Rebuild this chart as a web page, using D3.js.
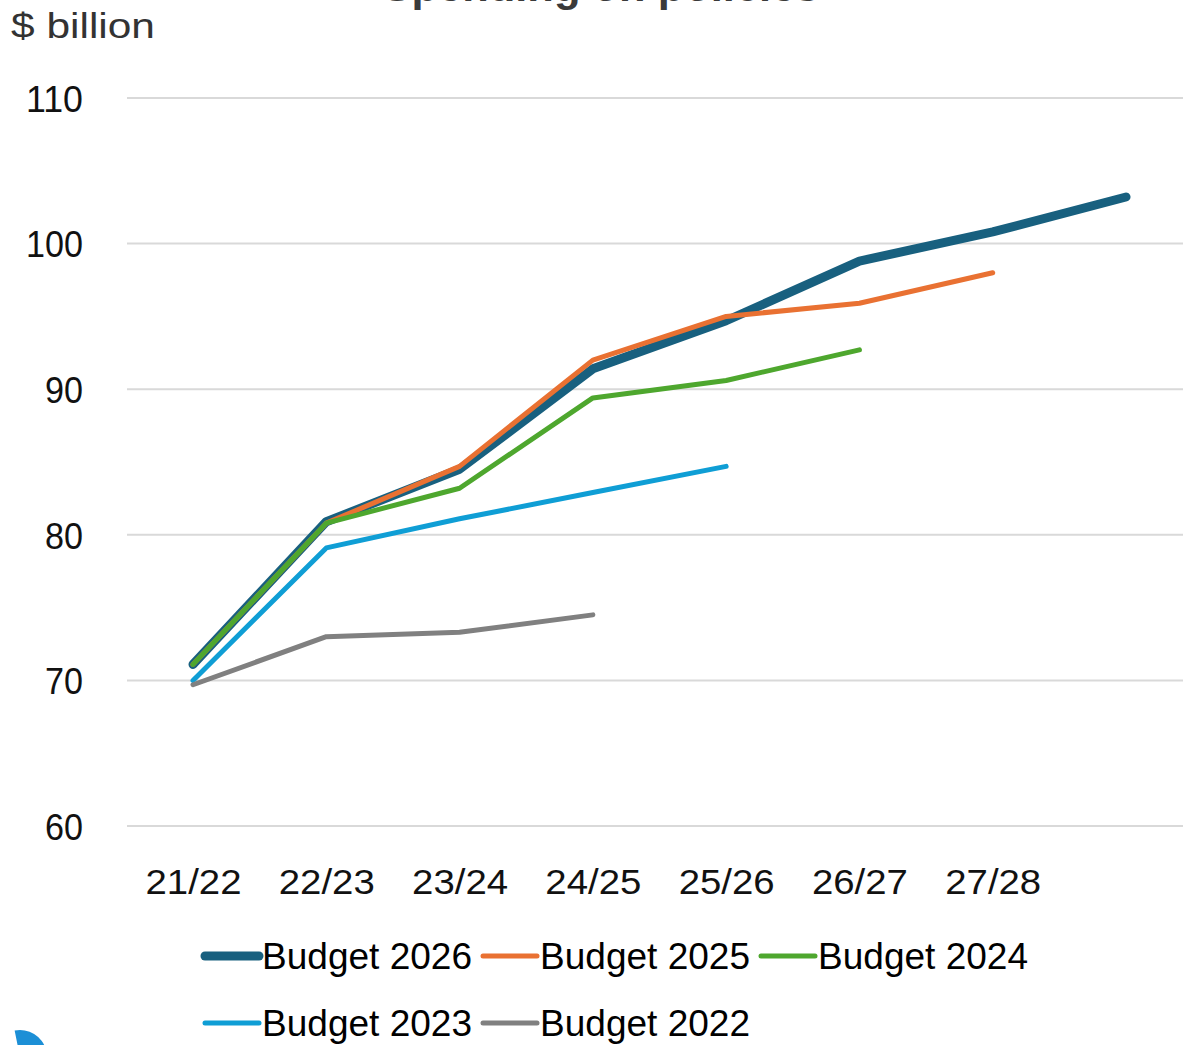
<!DOCTYPE html>
<html>
<head>
<meta charset="utf-8">
<script src="https://cdn.jsdelivr.net/npm/d3@7"></script>
<style>
  html, body { margin: 0; padding: 0; background: #fff; }
  svg { display: block; }
</style>
</head>
<body>
<svg id="chart" width="1183" height="1045"></svg>
<script>
// Fiscal years on the x axis (the last year carries no label)
const years = ["21/22", "22/23", "23/24", "24/25", "25/26", "26/27", "27/28", "28/29"];
const yearLabels = ["21/22", "22/23", "23/24", "24/25", "25/26", "26/27", "27/28", ""];
const yTicks = [60, 70, 80, 90, 100, 110];

// Spending forecasts by budget, $ billion
const budget2026 = [71.1, 80.9, 84.5, 91.4, 94.7, 98.8, 100.8, 103.2];
const budget2025 = [71.1, 80.8, 84.7, 92.0, 95.0, 95.9, 98.0];
const budget2024 = [71.1, 80.8, 83.2, 89.4, 90.6, 92.7];
const budget2023 = [70.0, 79.1, 81.1, 82.9, 84.7];
const budget2022 = [69.7, 73.0, 73.3, 74.5];

const seriesNames = ["Budget 2026", "Budget 2025", "Budget 2024", "Budget 2023", "Budget 2022"];
const seriesValues = [budget2026, budget2025, budget2024, budget2023, budget2022];
const seriesColors = ["#18607F", "#E97132", "#4EA72E", "#0F9ED5", "#808080"];
const seriesWidths = [9, 5, 5, 5, 5];

const svg = d3.select("#chart");
const font = "'Liberation Sans', Arial, sans-serif";

const x = d3.scalePoint().domain(years).range([193, 1126]);
const y = d3.scaleLinear().domain([60, 110]).range([826, 98]);

// Title (sits partly above the visible area)
svg.append("text")
  .attr("x", 601).attr("y", 0.5)
  .attr("text-anchor", "middle")
  .attr("font-family", font).attr("font-weight", "bold")
  .attr("font-size", 43).attr("fill", "#3a3a3a")
  .attr("textLength", 437).attr("lengthAdjust", "spacingAndGlyphs")
  .text("Spending on policies");

// Unit label
svg.append("text")
  .attr("x", 11).attr("y", 38)
  .attr("font-family", font).attr("font-size", 35)
  .attr("fill", "#333")
  .attr("textLength", 144).attr("lengthAdjust", "spacingAndGlyphs")
  .text("$ billion");

// Horizontal gridlines
svg.append("g")
  .selectAll("line")
  .data(yTicks)
  .join("line")
  .attr("x1", 127).attr("x2", 1183)
  .attr("y1", d => y(d)).attr("y2", d => y(d))
  .attr("stroke", "#D9D9D9").attr("stroke-width", 2);

// Y axis labels
const yAxis = svg.append("g")
  .attr("transform", "translate(83,0)")
  .call(d3.axisLeft(y).tickValues(yTicks).tickSize(0).tickPadding(0));
yAxis.select(".domain").remove();
yAxis.selectAll("text")
  .attr("font-family", font).attr("font-size", 37).attr("fill", "#111")
  .attr("dy", "0.36em")
  .attr("textLength", d => String(d).length * 19)
  .attr("lengthAdjust", "spacingAndGlyphs");

// X axis labels
const xAxis = svg.append("g")
  .attr("transform", "translate(0,881)")
  .call(d3.axisBottom(x).tickFormat((d, i) => yearLabels[i]).tickSize(0).tickPadding(0));
xAxis.select(".domain").remove();
xAxis.selectAll("text")
  .attr("font-family", font).attr("font-size", 35).attr("fill", "#111")
  .attr("dy", "0.36em")
  .filter((d, i) => yearLabels[i] !== "")
  .attr("textLength", 96)
  .attr("lengthAdjust", "spacingAndGlyphs");

// Lines: the latest budget is drawn first so the older ones sit on top
const line = d3.line()
  .x((d, i) => x(years[i]))
  .y(d => y(d));

svg.append("g")
  .selectAll("path")
  .data(seriesValues.map((v, i) => ({ v, i })))
  .join("path")
  .attr("d", d => line(d.v))
  .attr("fill", "none")
  .attr("stroke", d => seriesColors[d.i])
  .attr("stroke-width", d => seriesWidths[d.i])
  .attr("stroke-linecap", "round")
  .attr("stroke-linejoin", "round");

// Legend in two rows of three
const legend = svg.append("g");
const item = legend.selectAll("g")
  .data(seriesNames.map((name, i) => ({ name, i })))
  .join("g")
  .attr("transform", d => `translate(${205 + (d.i % 3) * 278},${956 + Math.floor(d.i / 3) * 67})`);
item.append("line")
  .attr("x1", 0).attr("x2", 54)
  .attr("stroke", d => seriesColors[d.i])
  .attr("stroke-width", d => seriesWidths[d.i])
  .attr("stroke-linecap", "round");
item.append("text")
  .attr("x", 57).attr("y", 0).attr("dy", "0.36em")
  .attr("font-family", font).attr("font-size", 36).attr("fill", "#000")
  .attr("textLength", 210).attr("lengthAdjust", "spacingAndGlyphs")
  .text(d => d.name);

// Partial logo mark at the bottom-left corner
svg.append("path")
  .attr("d", d3.arc()({ innerRadius: 10, outerRadius: 27, startAngle: -0.2, endAngle: 1.3 }))
  .attr("transform", "translate(20,1057)")
  .attr("fill", "#1C8FD6");
</script>
</body>
</html>
